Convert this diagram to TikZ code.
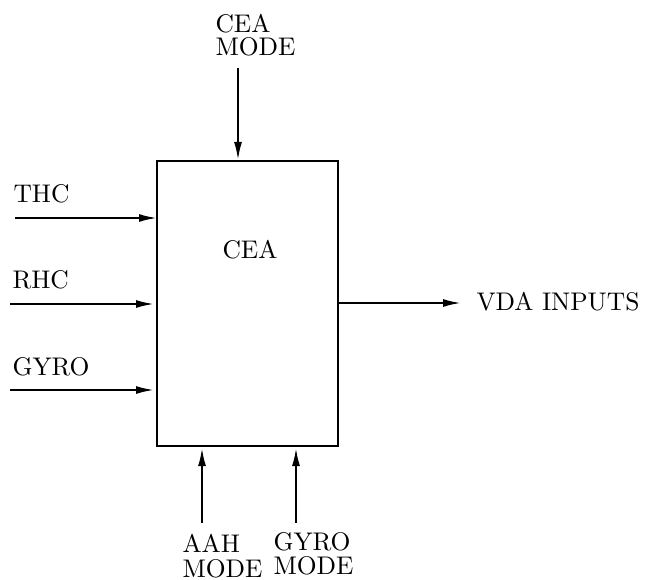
\documentclass[tikz,border=0pt]{standalone}
\usepackage{tikz}
\usetikzlibrary{arrows.meta,positioning}
\tikzset{
  blockbox/.style={draw,line width=1.5pt,minimum width=181pt,minimum height=285pt,inner sep=0pt},
  signal/.style={-{Latex[length=18pt,width=8pt]},line width=2pt},
  tag/.style={font=\fontsize{10}{9}\selectfont,scale=2.55,inner sep=0pt,align=left},
  tagwide/.style={tag,font=\fontsize{10}{9.6}\selectfont}
}

\begin{document}
\begin{tikzpicture}[x=1pt,y=-1pt]
  \useasboundingbox (0,0) rectangle (647,580);
  \node[blockbox] (cea) at (247.5,303.5) {};
  % label anchors
  \coordinate (ceaP) at (250,258);
  \coordinate (thcP) at (13,202);
  \coordinate (rhcP) at (12,288);
  \coordinate (gyrP) at (12,375);
  \coordinate (vdaP) at (476,310);
  \coordinate (cmoP) at (215,14);
  \coordinate (aahP) at (182,534);
  \coordinate (gmoP) at (273,532);
  % connector ends
  \coordinate (thc0) at (15,218);  \coordinate (thc1) at (157,218);
  \coordinate (rhc0) at (10,304);  \coordinate (rhc1) at (154,304);
  \coordinate (gyr0) at (10,390);  \coordinate (gyr1) at (154,390);
  \coordinate (out0) at (338,303); \coordinate (out1) at (461,303);
  \coordinate (cmo0) at (238,68);  \coordinate (cmo1) at (238,160);
  \coordinate (aah0) at (202,523); \coordinate (aah1) at (202,448);
  \coordinate (gmo0) at (296,523); \coordinate (gmo1) at (296,448);

  \node[tag,anchor=base] (ceaL) at (ceaP) {CEA};
  \node[tag,anchor=base west] (thc) at (thcP) {THC};
  \node[tag,anchor=base west] (rhc) at (rhcP) {RHC};
  \node[tag,anchor=base west] (gyr) at (gyrP) {GYRO};
  \node[tag,anchor=base west] (vda) at (vdaP) {VDA INPUTS};
  \node[tag,anchor=north west] (cmo) at (cmoP) {CEA\\MODE};
  \node[tagwide,anchor=north west] (aah) at (aahP) {AAH\\MODE};
  \node[tagwide,anchor=north west] (gmo) at (gmoP) {GYRO\\MODE};

  \draw[signal] (thc0) -- (thc1);
  \draw[signal] (rhc0) -- (rhc1);
  \draw[signal] (gyr0) -- (gyr1);
  \draw[signal] (out0) -- (out1);
  \draw[signal] (cmo0) -- (cmo1);
  \draw[signal] (aah0) -- (aah1);
  \draw[signal] (gmo0) -- (gmo1);
\end{tikzpicture}
\end{document}
